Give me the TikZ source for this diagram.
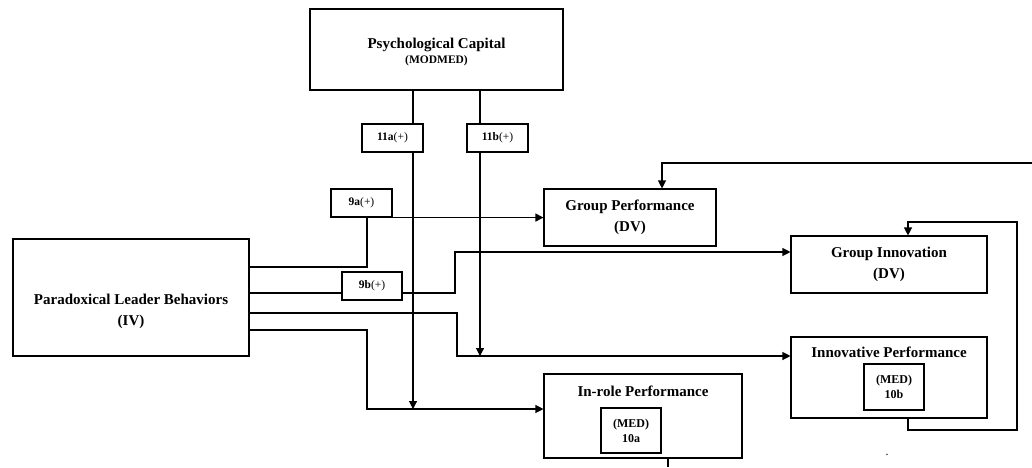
\documentclass[tikz,border=0pt]{standalone}
\usepackage{fontspec}
\setmainfont{Liberation Serif}
\usetikzlibrary{arrows.meta}
\begin{document}
\begin{tikzpicture}[x=1pt,y=-1pt,line width=1.1pt,
  box/.style 2 args={draw,line width=1.1pt,inner sep=0pt,minimum width=#1,minimum height=#2,align=center},
  big/.style={font=\bfseries\fontsize{15}{21}\selectfont},
  small/.style={font=\fontsize{11.5}{14}\selectfont},
  txt/.style={inner sep=0pt,anchor=base,align=center},
  arr/.style={-{Triangle[length=8pt,width=8pt]}}]
\useasboundingbox (0,0) rectangle (1032,467);
% boxes
\node[box={253}{81}] (pc) at (436.5,49.5) {};
\node[txt,big] (pct) at (436.5,48) {Psychological Capital};
\node[txt,font=\bfseries\fontsize{11.5}{14}\selectfont] (pcm) at (436.5,63) {(MODMED)};
\node[box={61}{28},small] (a11) at (392.5,138) {\textbf{11a}(+)};
\node[box={61}{28},small] (b11) at (497.5,138) {\textbf{11b}(+)};
\node[box={61}{28},small] (a9) at (361.5,203) {\textbf{9a}(+)};
\node[box={60}{28},small] (b9) at (372,286) {\textbf{9b}(+)};
\node[box={236}{117}] (plb) at (131,297.5) {};
\node[txt,big] (plbt) at (131,304) {Paradoxical Leader Behaviors};
\node[txt,big] (plbi) at (131,325.5) {(IV)};
\node[box={172}{57},big] (gp) at (630,217.5) {Group Performance\\(DV)};
\node[box={196}{57},big] (gi) at (889,264.5) {Group Innovation\\(DV)};
\node[box={196}{81}] (ip) at (889,377.5) {};
\node[txt,big] (ipt) at (889,357) {Innovative Performance};
\node[box={60}{46},font=\bfseries\fontsize{12}{15}\selectfont] (ipm) at (894,387) {(MED)\\10b};
\node[box={198}{84}] (ir) at (643,416) {};
\node[txt,big] (irt) at (643,396) {In-role Performance};
\node[box={60}{45},font=\bfseries\fontsize{12}{15}\selectfont] (irm) at (631,430.5) {(MED)\\10a};
\node[txt,font=\fontsize{12}{14}\selectfont] (dot) at (887,455) {.};
% connectors from PLB
\coordinate (p1) at (367,267);
\draw (plb.east |- p1) -- (p1) -- (p1 |- a9.south);
\draw[arr] (a9.south east) -- (a9.south east -| gp.west);
\coordinate (p2) at (455,293);
\coordinate (p2b) at (455,252);
\draw (plb.east |- p2) -- (p2 -| b9.west);
\draw[arr] (b9.east |- p2) -- (p2) -- (p2b) -- (p2b -| gi.west);
\coordinate (p3) at (457,313);
\coordinate (p3b) at (457,356);
\draw[arr] (plb.east |- p3) -- (p3) -- (p3b) -- (p3b -| ip.west);
\coordinate (p4) at (367,330);
\coordinate (p4b) at (367,409);
\draw[arr] (plb.east |- p4) -- (p4) -- (p4b) -- (p4b -| ir.west);
% moderator lines
\coordinate (va) at (413,0);
\coordinate (vb) at (480,0);
\draw (pc.south -| va) -- (a11.north -| va);
\draw[arr] (a11.south -| va) -- (va |- p4b);
\draw (pc.south -| vb) -- (b11.north -| vb);
\draw[arr] (b11.south -| vb) -- (vb |- p3b);
% feedback
\coordinate (f1) at (1032,163);
\coordinate (f2) at (662,163);
\draw[arr] (f1) -- (f2) -- (f2 |- gp.north);
\coordinate (l1) at (908,430);
\coordinate (l2) at (1017,430);
\coordinate (l3) at (1017,222);
\coordinate (l4) at (908,222);
\draw[arr] (ip.south -| l1) -- (l1) -- (l2) -- (l3) -- (l4) -- (l4 |- gi.north);
\coordinate (bt) at (668,467);
\draw (ir.south -| bt) -- (bt);
\end{tikzpicture}
\end{document}
